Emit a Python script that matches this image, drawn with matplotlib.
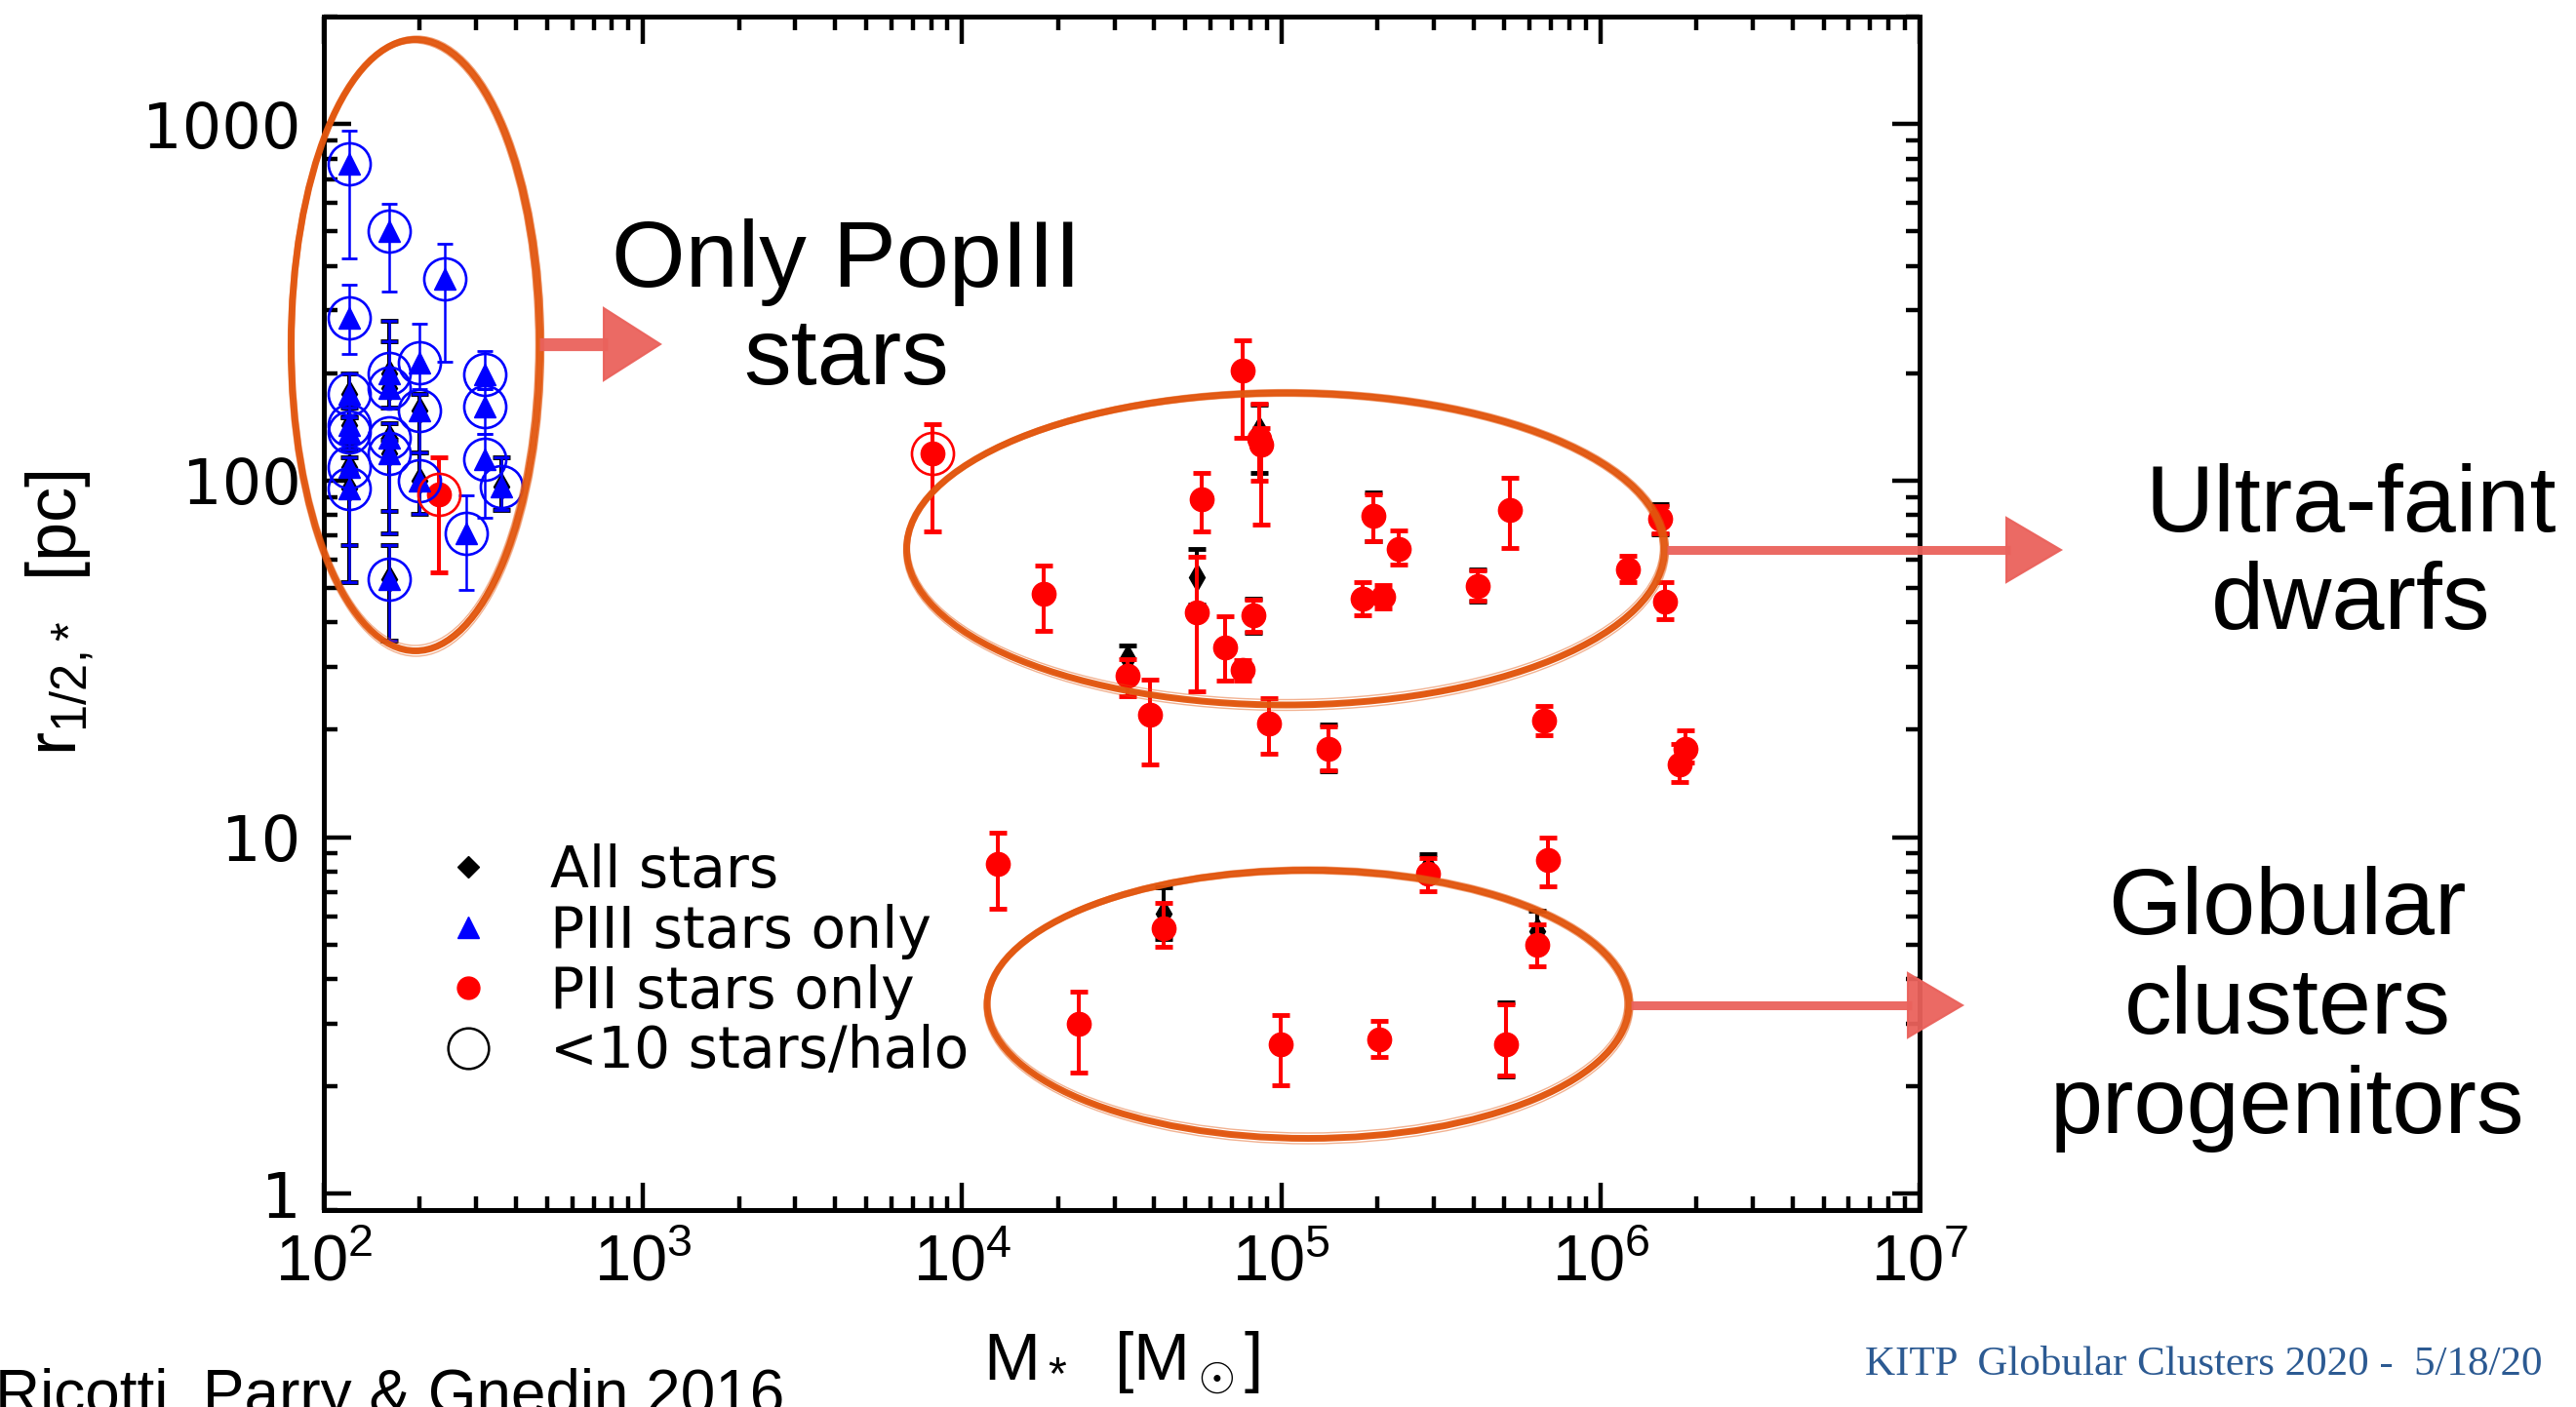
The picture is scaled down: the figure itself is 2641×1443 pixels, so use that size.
import numpy as np
import matplotlib
matplotlib.use('Agg')
import matplotlib.pyplot as plt
from matplotlib.patches import Ellipse, Polygon
from matplotlib.lines import Line2D
from matplotlib.ticker import LogLocator, LogFormatterMathtext, NullFormatter

plt.rcParams['mathtext.fontset'] = 'custom'
plt.rcParams['mathtext.rm'] = 'Liberation Sans'
plt.rcParams['mathtext.it'] = 'Liberation Sans:italic'
plt.rcParams['mathtext.bf'] = 'Liberation Sans:bold'

# --- halos with PopII stars only: M* [Msun], r_1/2 [pc], error bar ends
m_pii = [229, 8070, 12900, 18000, 23200, 32900, 38900, 42900, 54200, 56500,
         66900, 75500, 75900, 81500, 85100, 86600, 91400, 99300, 140600, 179800,
         195000, 203000, 208000, 234000, 288000, 412000, 506000, 521000, 634000,
         664000, 687000, 1.22e6, 1.54e6, 1.59e6, 1.77e6, 1.85e6]
r_pii = [91.6, 119, 8.40, 48.0, 3.00, 28.3, 22.1, 5.56, 42.6, 88.7,
         34.0, 29.4, 204, 41.8, 131, 126, 20.8, 2.62, 17.7, 46.7,
         79.4, 2.71, 47.3, 64.3, 7.92, 50.6, 2.62, 82.6, 4.99,
         21.2, 8.61, 56.4, 78.0, 45.9, 16.0, 17.7]
r_pii_hi = [116, 144, 10.3, 57.7, 3.68, 31.6, 27.7, 6.55, 61.2, 105,
            41.6, 31.3, 248, 46.4, 164, 140, 24.5, 3.18, 20.5, 51.9,
            91.6, 3.05, 50.9, 72.6, 8.71, 55.8, 3.40, 102, 5.71,
            23.3, 9.98, 61.6, 85.0, 51.9, 18.3, 19.9]
r_pii_lo = [55.2, 72, 6.3, 37.9, 2.18, 24.8, 16.0, 4.93, 25.6, 71.8,
            27.5, 27.5, 132, 37.7, 99.7, 75.4, 17.1, 2.01, 15.4, 41.9,
            67.8, 2.42, 43.7, 58.2, 7.07, 46.1, 2.15, 64.7, 4.33,
            19.3, 7.28, 51.9, 71.0, 40.9, 14.3, 16.2]
few_pii = [229, 8070]          # halos with <10 stars
few_pii_r = [91.6, 119]

# --- halos with PopIII stars only
m_piii = [120, 120, 120, 120, 120, 120, 120,
          160, 160, 160, 160, 160, 160,
          200, 200, 200, 240, 280, 320, 320, 320, 360]
r_piii = [773, 286, 175, 143, 137, 109, 95,
          500, 200, 182, 132, 119, 53,
          214, 157, 100, 367, 71, 199, 161, 115, 96.2]
r_piii_hi = [955, 355, 200, 160, 150, 116, 105,
             597, 281, 245, 145, 130, 66,
             275, 175, 120, 460, 90.8, 231, 180, 135, 116]
r_piii_lo = [419, 226, 150, 128, 122, 66, 52,
             339, 175, 160, 82, 71, 35.6,
             180, 120, 80.5, 215, 49.2, 180, 135, 78.5, 82.6]

# --- all stars
m_all = [32900, 54200, 42900, 634000, 288000, 85100, 140600, 195000, 412000,
         1.54e6, 506000, 81500,
         120, 120, 120, 120, 120, 160, 160, 160, 160, 160, 200, 200, 360]
r_all = [31.8, 53.7, 6.10, 5.46, 8.26, 139, 17.7, 79.4, 50.6,
         78.0, 2.62, 41.8,
         175, 143, 137, 109, 95, 200, 182, 132, 119, 53, 157, 100, 96.2]
r_all_hi = [34.5, 64.3, 7.21, 6.22, 8.98, 163, 20.7, 92.5, 56.3,
            86.0, 3.43, 46.5,
            200, 160, 150, 116, 105, 281, 245, 145, 130, 66, 175, 120, 116]
r_all_lo = [29.0, 45.0, 5.17, 4.80, 7.60, 105, 15.3, 67.5, 45.8,
            70.5, 2.13, 37.3,
            150, 128, 122, 66, 52, 175, 160, 82, 71, 35.6, 120, 80.5, 82.6]

W, H = 2641, 1443
fig = plt.figure(figsize=(W / 100, H / 100), dpi=100)
ax = fig.add_axes([332 / W, 1 - 1241 / H, 1636 / W, 1224 / H])


def yerr(r, lo, hi):
    r, lo, hi = np.asarray(r), np.asarray(lo), np.asarray(hi)
    return [r - lo, hi - r]


ax.errorbar(m_all, r_all, yerr=yerr(r_all, r_all_lo, r_all_hi), fmt='d',
            color='black', ms=14, elinewidth=2.9, capsize=6.5, capthick=3.5,
            zorder=2)
ax.errorbar(m_pii, r_pii, yerr=yerr(r_pii, r_pii_lo, r_pii_hi), fmt='o',
            color='#ff0000', ms=17.5, elinewidth=2.9, capsize=6.5, capthick=3.5,
            zorder=3)
ax.errorbar(m_piii, r_piii, yerr=yerr(r_piii, r_piii_lo, r_piii_hi), fmt='^',
            color='#0000ff', ms=15.5, elinewidth=1.8, capsize=5.5, capthick=2.0,
            zorder=4)
ax.plot(m_piii, r_piii, 'o', ms=31, mfc='none', mec='#0000ff', mew=1.9, zorder=5)
ax.plot(few_pii, few_pii_r, 'o', ms=31, mfc='none', mec='#ff0000', mew=1.9, zorder=5)

ax.set_xscale('log')
ax.set_yscale('log')
ax.set_xlim(1e2, 1e7)
ax.set_ylim(0.9, 2000)

for s in ax.spines.values():
    s.set_linewidth(3.6)
ax.tick_params(which='both', direction='in', top=True, right=True, width=3.2)
ax.tick_params(which='major', length=20)
ax.tick_params(which='minor', length=10)
ax.tick_params(axis='y', which='major', pad=17)
ax.tick_params(axis='x', which='major', pad=18)

ax.set_xticks([1e2, 1e3, 1e4, 1e5, 1e6, 1e7])
ax.xaxis.set_major_formatter(LogFormatterMathtext())
ax.xaxis.set_minor_locator(LogLocator(base=10, subs=np.arange(2, 10), numticks=30))
ax.xaxis.set_minor_formatter(NullFormatter())
ax.set_yticks([1, 10, 100, 1000])
ax.set_yticklabels(['1', '10', '100', '1000'])
ax.yaxis.set_minor_locator(LogLocator(base=10, subs=np.arange(2, 10), numticks=30))
ax.yaxis.set_minor_formatter(NullFormatter())
for t in ax.get_xticklabels():
    t.set_fontfamily('Liberation Sans')
    t.set_fontsize(48)
for t in ax.get_yticklabels():
    t.set_fontfamily('DejaVu Sans')
    t.set_fontsize(46)

ax.set_xlabel(r'M$_*$  [M$_\odot$]', fontfamily='Liberation Sans', fontsize=50)
ax.xaxis.set_label_coords(0.5, -0.1)
ax.set_ylabel(r'r$_{1/2,{*}}$  [pc]', fontfamily='Liberation Sans', fontsize=52)
ax.yaxis.set_label_coords(-0.143, 0.5)

handles = [
    Line2D([], [], ls='none', marker='D', ms=11.5, color='black'),
    Line2D([], [], ls='none', marker='^', ms=16.5, color='#0000ff'),
    Line2D([], [], ls='none', marker='o', ms=16.5, color='#ff0000'),
    Line2D([], [], ls='none', marker='o', ms=30, mfc='none', mec='black', mew=1.8),
]
labels = ['All stars', 'PIII stars only', 'PII stars only', '<10 stars/halo']
ax.legend(handles, labels, loc='upper left', bbox_to_anchor=(0.0725, 0.3075),
          frameon=False, borderpad=0, borderaxespad=0, handlelength=1.0,
          handletextpad=0.95, labelspacing=0.085,
          prop={'family': 'DejaVu Sans', 'size': 42})

# hand-drawn overlay in pixel coordinates
ov = fig.add_axes([0, 0, 1, 1], zorder=10)
ov.set_xlim(0, W)
ov.set_ylim(H, 0)
ov.axis('off')
ov.patch.set_alpha(0)

ORANGE = '#e2560e'
SALMON = '#ea625c'


def crayon_ellipse(cx, cy, w, h):
    strokes = [(0, 0, 0, 5.0, 0.95), (1.5, -1.0, 4, 1.6, 0.55),
               (-1.5, 1.0, -4, 1.6, 0.55), (0.5, 2.0, 7, 1.0, 0.45),
               (-0.5, -2.0, -7, 1.0, 0.45)]
    for dx, dy, dw, lw, a in strokes:
        ov.add_patch(Ellipse((cx + dx, cy + dy), w + dw, h + dw, fill=False,
                             ec=ORANGE, lw=lw, alpha=a))


def crayon_arrow(x0, x1, y, lw, head_len, head_half):
    ov.plot([x0, x1 - head_len + 4], [y, y], color=SALMON, lw=lw,
            solid_capstyle='butt', alpha=0.95)
    ov.add_patch(Polygon([(x1 - head_len, y - head_half), (x1, y),
                          (x1 - head_len, y + head_half)], closed=True,
                         fc=SALMON, ec=SALMON, lw=1.5, alpha=0.95))


crayon_ellipse(426, 354, 255, 627)
crayon_ellipse(1318, 563, 777, 320)
crayon_ellipse(1341, 1030, 658, 275)

crayon_arrow(553, 677, 353, 9.5, 58, 37)
crayon_arrow(1709, 2113, 564, 6.5, 56, 33)
crayon_arrow(1672, 2012, 1031, 6.5, 56, 33)

big = dict(fontfamily='Liberation Sans', fontsize=70, ha='center', va='center',
           multialignment='center', color='black')
ov.text(868, 319, 'Only PopIII\nstars', linespacing=1.13, **big)
ov.text(2410, 570, 'Ultra-faint\ndwarfs', linespacing=1.15, **big)
ov.text(2345, 1035, 'Globular\nclusters\nprogenitors', linespacing=1.17, **big)

ov.text(-5, 1403, 'Ricotti, Parry & Gnedin 2016', fontfamily='Liberation Sans',
        fontsize=46, ha='left', va='top')
ov.text(2607, 1410, 'KITP  Globular Clusters 2020 -  5/18/20',
        fontfamily='Liberation Serif', fontsize=31, ha='right', va='baseline',
        color='#2c5a92')

fig.savefig('out.png', dpi=100)
